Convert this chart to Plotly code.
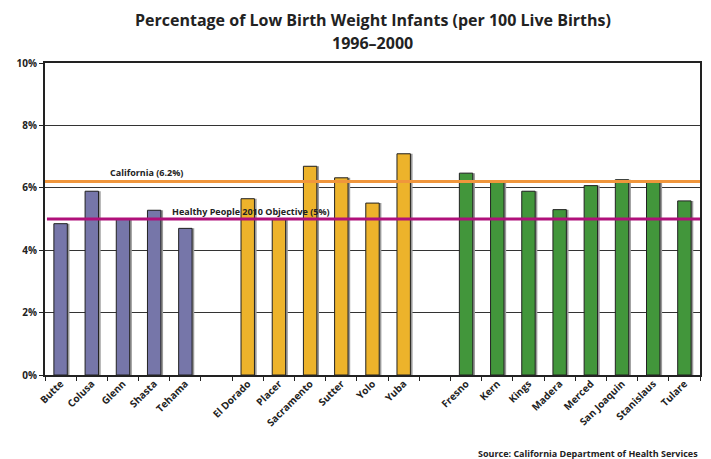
import plotly.graph_objects as go

north = ["Butte", "Colusa", "Glenn", "Shasta", "Tehama"]
north_vals = [4.85, 5.89, 5.0, 5.28, 4.70]
sac = ["El Dorado", "Placer", "Sacramento", "Sutter", "Yolo", "Yuba"]
sac_vals = [5.65, 4.98, 6.69, 6.32, 5.51, 7.09]
valley = ["Fresno", "Kern", "Kings", "Madera", "Merced", "San Joaquin", "Stanislaus", "Tulare"]
valley_vals = [6.47, 6.2, 5.89, 5.30, 6.07, 6.26, 6.2, 5.58]
gaps = [" ", "  "]
california = 6.2
objective = 5.0

categories = north + [gaps[0]] + sac + [gaps[1]] + valley

FONT = "Open Sans"
TXT = "#222222"

fig = go.Figure()
for names, vals, col in [(north, north_vals, "#7676A9"),
                         (sac, sac_vals, "#EDB32B"),
                         (valley, valley_vals, "#42963B")]:
    fig.add_trace(go.Bar(x=names, y=vals, width=0.43, offset=-0.215 + 0.07, xaxis="x",
                         marker=dict(color="#9a9a9a", line=dict(width=0)),
                         hoverinfo="skip", showlegend=False))
for names, vals, col in [(north, north_vals, "#7676A9"),
                         (sac, sac_vals, "#EDB32B"),
                         (valley, valley_vals, "#42963B")]:
    fig.add_trace(go.Bar(x=names, y=vals, width=0.43, offset=-0.215, xaxis="x2",
                         marker=dict(color=col, line=dict(color="#222222", width=1)),
                         showlegend=False))

fig.add_shape(type="line", xref="paper", yref="y", x0=0, x1=1, y0=california, y1=california,
              line=dict(color="#F0963C", width=3), layer="above")
fig.add_shape(type="line", xref="paper", yref="y", x0=0.003, x1=1, y0=objective, y1=objective,
              line=dict(color="#B0107A", width=3), layer="above")

fig.add_annotation(x=2.74, xref="x", y=california, yref="y", text="<b>California (6.2%)</b>",
                   showarrow=False, yshift=9, font=dict(family=FONT, size=9, color=TXT))
fig.add_annotation(x=3.5, xref="x", y=objective, yref="y",
                   text="<b>Healthy People 2010 Objective (5%)</b>", xanchor="left",
                   showarrow=False, yshift=8, font=dict(family=FONT, size=9, color=TXT))

fig.add_annotation(x=1, xref="paper", y=0, yref="paper", yshift=-78, xanchor="right", yanchor="middle",
                   text="<b>Source: California Department of Health Services</b>", showarrow=False,
                   font=dict(family=FONT, size=9, color=TXT))

fig.add_annotation(x=0.5, xref="paper", y=1, yref="paper", yshift=43, yanchor="middle",
                   text="<b>Percentage of Low Birth Weight Infants (per 100 Live Births)</b>",
                   showarrow=False, font=dict(family=FONT, size=16, color=TXT))
fig.add_annotation(x=0.5, xref="paper", y=1, yref="paper", yshift=20, yanchor="middle",
                   text="<b>1996\u20132000</b>",
                   showarrow=False, font=dict(family=FONT, size=16, color=TXT))

rng = [-0.5, len(categories) - 0.5]
fig.update_layout(
    width=711, height=459,
    margin=dict(l=45, r=11, t=63, b=84, autoexpand=False),
    paper_bgcolor="white", plot_bgcolor="white",
    barmode="overlay",
    xaxis=dict(type="category", categoryorder="array", categoryarray=categories,
               range=rng, ticks="", showline=False, showgrid=False,
               tickangle=-45, automargin=False,
               tickfont=dict(family=FONT, size=10, color=TXT, weight="bold")),
    xaxis2=dict(type="category", categoryorder="array", categoryarray=categories,
                range=rng, overlaying="x", side="bottom", anchor="y",
                tickson="boundaries", ticks="outside", ticklen=4, tickcolor="#222",
                showticklabels=False, showline=True, linecolor="#222", linewidth=2, mirror=True,
                showgrid=False, automargin=False),
    yaxis=dict(range=[0, 10], dtick=2, ticksuffix="%", ticks="outside", ticklen=4, tickcolor="#222",
               showline=True, linecolor="#222", linewidth=2, mirror=True, automargin=False,
               showgrid=True, gridcolor="#333", gridwidth=1, zeroline=False,
               tickfont=dict(family=FONT, size=10, color=TXT, weight="bold")),
)

fig.write_html("out.html", config={"displayModeBar": False},
               post_script="document.body.style.margin='0';document.body.style.overflow='hidden';")
